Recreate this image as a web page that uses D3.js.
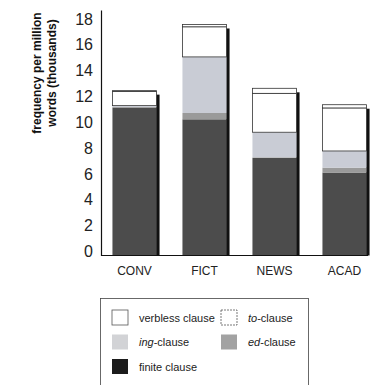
<!DOCTYPE html>
<html><head><meta charset="utf-8">
<script src="https://cdn.jsdelivr.net/npm/d3@7"></script>
<style>body{margin:0;background:#fff}svg{display:block}</style>
</head><body>
<svg id="c" width="372" height="385"></svg>
<script>
const categories = ["CONV", "FICT", "NEWS", "ACAD"];
const seriesNames = ["finite clause", "ed-clause", "ing-clause", "to-clause", "verbless clause"];
const finite   = [11.45, 10.54, 7.55, 6.42];
const edClause = [0.05, 0.49, 0.05, 0.38];
const ingClause= [0.10, 4.34, 1.94, 1.29];
const toClause = [1.10, 2.33, 3.01, 3.33];
const verbless = [0.06, 0.18, 0.39, 0.25];
const yTicks = [0, 2, 4, 6, 8, 10, 12, 14, 16, 18];
const colors = ["#4c4c4c", "#9a9a9a", "#c9ccd5", "#ffffff", "#ffffff"];

const rows = categories.map((c, i) => ({
  cat: c, "finite clause": finite[i], "ed-clause": edClause[i],
  "ing-clause": ingClause[i], "to-clause": toClause[i], "verbless clause": verbless[i]
}));
const stack = d3.stack().keys(seriesNames)(rows);

const svg = d3.select("#c");
const x = d3.scaleBand().domain(categories).range([99.5, 379.5]).paddingInner(0.37).paddingOuter(0.185);
const y = d3.scaleLinear().domain([0, 19]).range([255.5, 10]);

// shadows
svg.append("g").selectAll("rect").data(rows).join("rect")
  .attr("x", d => x(d.cat) + x.bandwidth() - 0.5)
  .attr("y", (d, i) => y(stack[stack.length - 1][i][1]) + 4)
  .attr("width", 3.5)
  .attr("height", (d, i) => y(0) - y(stack[stack.length - 1][i][1]) - 4)
  .attr("fill", "#111");

// stacked bars
svg.append("g").selectAll("g").data(stack).join("g")
  .attr("fill", (d, i) => colors[i])
  .selectAll("rect").data(d => d.map(v => ({v, key: d.key}))).join("rect")
  .attr("x", d => x(d.v.data.cat))
  .attr("y", d => y(d.v[1]))
  .attr("width", x.bandwidth())
  .attr("height", d => Math.max(0, y(d.v[0]) - y(d.v[1])))
  .attr("stroke", d => (d.key === "to-clause" || d.key === "verbless clause") ? "#333" : "none")
  .attr("stroke-width", 0.8);

// y axis
const ya = svg.append("g").attr("transform", "translate(101,0)")
  .call(d3.axisLeft(y).tickValues(yTicks).tickSize(0).tickSizeOuter(0).tickPadding(8));
ya.select(".domain").attr("stroke", "#111").attr("stroke-width", 1.2);
ya.selectAll("text").attr("y", -4).attr("font-size", 16)
  .attr("font-family", "'Liberation Sans', Arial, sans-serif").attr("fill", "#222");

// x axis
const xa = svg.append("g").attr("transform", "translate(0,255.5)")
  .call(d3.axisBottom(x).tickSize(0).tickSizeOuter(0).tickPadding(11));
xa.select(".domain").attr("d", "M101.5,0H368").attr("stroke", "#111").attr("stroke-width", 1.2);
xa.selectAll("text").attr("font-size", 12)
  .attr("font-family", "'Liberation Sans', Arial, sans-serif").attr("fill", "#222");

// y title
const yt = svg.append("text").attr("transform", "translate(41,73) rotate(-90)")
  .attr("text-anchor", "middle").attr("font-weight", "bold").attr("font-size", 12)
  .attr("font-family", "'Liberation Sans', Arial, sans-serif").attr("fill", "#111");
yt.append("tspan").attr("x", 0).attr("dy", 0).text("frequency per million");
yt.append("tspan").attr("x", 0).attr("dy", 15).text("words (thousands)");

// legend
const lg = svg.append("g");
lg.append("rect").attr("x", 100.5).attr("y", 298.5).attr("width", 208).attr("height", 100)
  .attr("fill", "none").attr("stroke", "#444").attr("stroke-width", 0.8);
const legendItems = [
  {key: "verbless clause", col: 0, row: 0, parts: [["verbless clause", false]]},
  {key: "to-clause", col: 1, row: 0, parts: [["to", true], ["-clause", false]]},
  {key: "ing-clause", col: 0, row: 1, parts: [["ing", true], ["-clause", false]]},
  {key: "ed-clause", col: 1, row: 1, parts: [["ed", true], ["-clause", false]]},
  {key: "finite clause", col: 0, row: 2, parts: [["finite clause", false]]}
];
const legendColors = {"verbless clause": colors[4], "to-clause": colors[3], "ing-clause": "#d2d3d6", "ed-clause": "#a2a2a2", "finite clause": "#1c1c1c"};
const li = lg.selectAll("g.item").data(legendItems).join("g").attr("class", "item")
  .attr("transform", d => `translate(${d.col ? 221 : 112},${310 + d.row * 24.5})`);
li.append("rect").attr("width", 16).attr("height", 15)
  .attr("fill", d => legendColors[d.key])
  .attr("stroke", d => (d.key === "verbless clause" || d.key === "to-clause") ? "#555" : "none")
  .attr("stroke-width", 0.8)
  .attr("stroke-dasharray", d => d.key === "to-clause" ? "2,1" : null);
const lt = li.append("text").attr("x", 27).attr("y", 11.5).attr("font-size", 11)
  .attr("font-family", "'Liberation Sans', Arial, sans-serif").attr("fill", "#222");
lt.selectAll("tspan").data(d => d.parts).join("tspan")
  .attr("font-style", d => d[1] ? "italic" : "normal").text(d => d[0]);
</script>
</body></html>
